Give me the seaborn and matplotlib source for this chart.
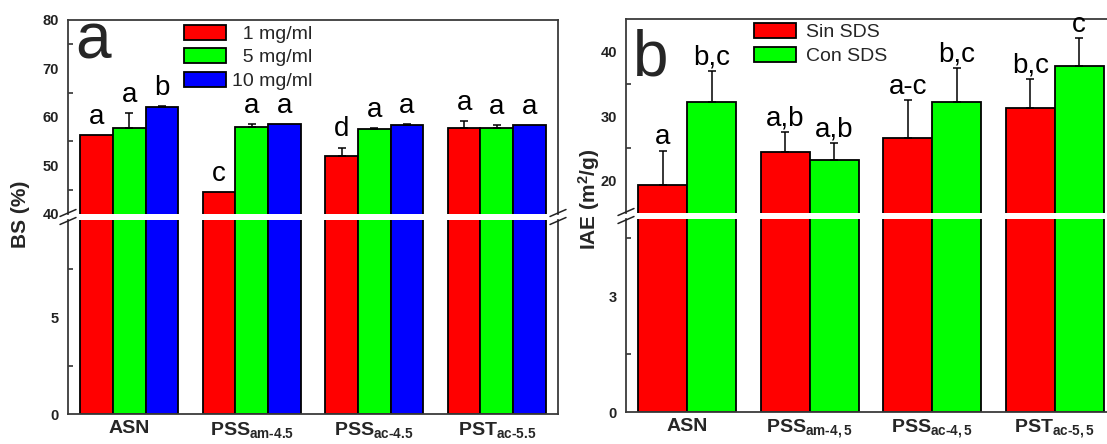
import numpy as np
import pandas as pd
import matplotlib
matplotlib.use('Agg')
import matplotlib.pyplot as plt
import seaborn as sns
from matplotlib.lines import Line2D
from matplotlib.container import BarContainer

# ---- panel a: BS (%) ----
muestras = ['ASN', 'PSSam-4.5', 'PSSac-4.5', 'PSTac-5.5']
etiquetas_a = ['ASN', r'PSS$_{\mathrm{am}\text{-}\mathrm{4.5}}$',
               r'PSS$_{\mathrm{ac}\text{-}\mathrm{4.5}}$', r'PST$_{\mathrm{ac}\text{-}\mathrm{5.5}}$']
conc = ['  1 mg/ml', '  5 mg/ml', '10 mg/ml']
bs_1 = [56.2, 44.6, 52.0, 57.8]
bs_5 = [57.8, 58.0, 57.6, 57.7]
bs_10 = [62.0, 58.6, 58.4, 58.4]
bs_1_err = [0, 0, 1.7, 1.4]
bs_5_err = [3.1, 0.6, 0.2, 0.6]
bs_10_err = [0.3, 0, 0.2, 0]
bs_1_let = ['a', 'c', 'd', 'a']
bs_5_let = ['a', 'a', 'a', 'a']
bs_10_let = ['b', 'a', 'a', 'a']

# ---- panel b: IAE (m2/g) ----
etiquetas_b = ['ASN', r'PSS$_{\mathrm{am}\text{-}\mathrm{4,5}}$',
               r'PSS$_{\mathrm{ac}\text{-}\mathrm{4,5}}$', r'PST$_{\mathrm{ac}\text{-}\mathrm{5,5}}$']
sds = ['Sin SDS', 'Con SDS']
iae_sin = [19.4, 24.4, 26.6, 31.2]
iae_con = [32.2, 23.2, 32.2, 37.7]
iae_sin_err = [5.2, 3.1, 5.8, 4.5]
iae_con_err = [4.8, 2.6, 5.2, 4.3]
iae_sin_let = ['a', 'a,b', 'a-c', 'b,c']
iae_con_let = ['b,c', 'a,b', 'b,c', 'c']

sns.set_style('white')
plt.rcParams['font.family'] = ['Liberation Sans', 'DejaVu Sans']
plt.rcParams['mathtext.fontset'] = 'custom'
plt.rcParams['mathtext.rm'] = 'Liberation Sans:bold'
plt.rcParams['mathtext.it'] = 'Liberation Sans:bold'
plt.rcParams['mathtext.bf'] = 'Liberation Sans:bold'
plt.rcParams['mathtext.default'] = 'rm'

W, H = 1107, 444
fig = plt.figure(figsize=(W / 100, H / 100), dpi=100)


def fx(x):
    return x / W


def fy(y):
    return 1 - y / H


def panel(x0, top_px, bot_px, df, ycol, hue_order, colores, lim_sup, lim_inf,
          ticks_sup, minor_sup, ticks_inf, minor_inf, errs, letras, gap_pt, xlabels):
    w = 490 / W
    ax_t = fig.add_axes([fx(x0), fy(top_px[1]), w, (top_px[1] - top_px[0]) / H])
    ax_b = fig.add_axes([fx(x0), fy(bot_px[1]), w, (bot_px[1] - bot_px[0]) / H])
    for ax in (ax_t, ax_b):
        sns.barplot(data=df, x='muestra', y=ycol, hue='grupo', order=muestras,
                    hue_order=hue_order, palette=colores, saturation=1,
                    edgecolor='black', linewidth=1.3, errorbar=None, legend=False, ax=ax)
        ax.set_xlim(-0.5, 3.5)
        ax.set_xlabel('')
        ax.set_ylabel('')
        for s in ax.spines.values():
            s.set_color('#3a3a3a')
            s.set_linewidth(1.3)
        ax.tick_params(axis='y', which='major', direction='out', length=4, width=1.1,
                       pad=2.5, labelsize=10.5, colors='#222222')
        ax.tick_params(axis='y', which='minor', direction='in', length=3.5, width=1.1,
                       left=True, colors='#222222')
        ax.tick_params(axis='x', length=0, pad=4)
    ax_t.set_ylim(*lim_sup)
    ax_b.set_ylim(*lim_inf)
    ax_t.set_yticks(ticks_sup)
    ax_t.set_yticks(minor_sup, minor=True)
    ax_b.set_yticks(ticks_inf)
    ax_b.set_yticks(minor_inf, minor=True)
    for ax in (ax_t, ax_b):
        for lab in ax.get_yticklabels():
            lab.set_fontweight('bold')
    ax_t.spines['bottom'].set_visible(False)
    ax_b.spines['top'].set_visible(False)
    ax_t.set_xticks([])
    ax_b.set_xticks(range(len(muestras)))
    ax_b.set_xticklabels(xlabels, fontsize=14, fontweight='bold')

    barras = [c for c in ax_t.containers if isinstance(c, BarContainer)]
    # barras de error (solo hacia arriba) y letras
    for cont, e, let in zip(barras, errs, letras):
        for bar, ee, tt in zip(cont.patches, e, let):
            xc = bar.get_x() + bar.get_width() / 2
            yt = bar.get_height()
            if ee > 0:
                ax_t.errorbar(xc, yt, yerr=[[0], [ee]], fmt='none', ecolor='black',
                              elinewidth=1.1, capsize=2.6, capthick=1.1, zorder=5)
            ax_t.annotate(tt, xy=(xc, yt + ee), xytext=(0, gap_pt), textcoords='offset points',
                          ha='center', va='baseline', fontsize=20, color='black')
    return ax_t, ax_b, barras


# panel a
df_a = pd.DataFrame({'muestra': muestras * 3,
                     'grupo': np.repeat(conc, len(muestras)),
                     'bs': bs_1 + bs_5 + bs_10})
ax_at, ax_ab, barras_a = panel(68, (20, 214), (220, 414), df_a, 'bs', conc,
                               ['#ff0000', '#00ff00', '#0000ff'], (40, 80), (0, 10),
                               [40, 50, 60, 70, 80], [45, 55, 65, 75], [0, 5], [2.5, 7.5],
                               [bs_1_err, bs_5_err, bs_10_err], [bs_1_let, bs_5_let, bs_10_let],
                               8, etiquetas_a)
ax_at.legend(handles=[c.patches[0] for c in barras_a], labels=conc,
             loc='upper left', bbox_to_anchor=((184 - 68) / 490, 0.975), frameon=False,
             fontsize=14, handlelength=2.15, handleheight=0.8, handletextpad=0.3,
             labelspacing=0.27, borderpad=0, borderaxespad=0)
ax_at.text(0.014, 0.80, 'a', transform=ax_at.transAxes, fontsize=46, va='baseline')

# panel b
df_b = pd.DataFrame({'muestra': muestras * 2,
                     'grupo': np.repeat(sds, len(muestras)),
                     'iae': iae_sin + iae_con})
ax_bt, ax_bb, barras_b = panel(626, (19, 213), (219, 412), df_b, 'iae', sds,
                               ['#ff0000', '#00ff00'], (15, 45), (0, 5),
                               [20, 30, 40], [25, 35], [0, 3], [1.5, 4.5],
                               [iae_sin_err, iae_con_err], [iae_sin_let, iae_con_let],
                               4.7, etiquetas_b)
ax_bt.legend(handles=[c.patches[0] for c in barras_b], labels=sds,
             loc='upper left', bbox_to_anchor=((754 - 626) / 490, 0.98), frameon=False,
             fontsize=14, handlelength=2.15, handleheight=0.8, handletextpad=0.5,
             labelspacing=0.3, borderpad=0, borderaxespad=0)
ax_bt.text(0.014, 0.71, 'b', transform=ax_bt.transAxes, fontsize=46, va='baseline')

# marcas de corte //
for xm, y1, y2 in [(68, 214, 220), (558, 214, 220), (626, 213, 219)]:
    for yy in (y1 - 1, y2 + 1):
        fig.add_artist(Line2D([fx(xm - 8), fx(xm + 8)], [fy(yy + 3.5), fy(yy - 3.5)],
                              color='#222222', lw=1.1))

fig.text(fx(21), fy(214), 'BS (%)', rotation=90, ha='center', va='center',
         fontsize=15, fontweight='bold')
fig.text(fx(589), fy(199), r'IAE (m$^2$/g)', rotation=90, ha='center', va='center',
         fontsize=15, fontweight='bold')

fig.savefig('out.png', dpi=100)
